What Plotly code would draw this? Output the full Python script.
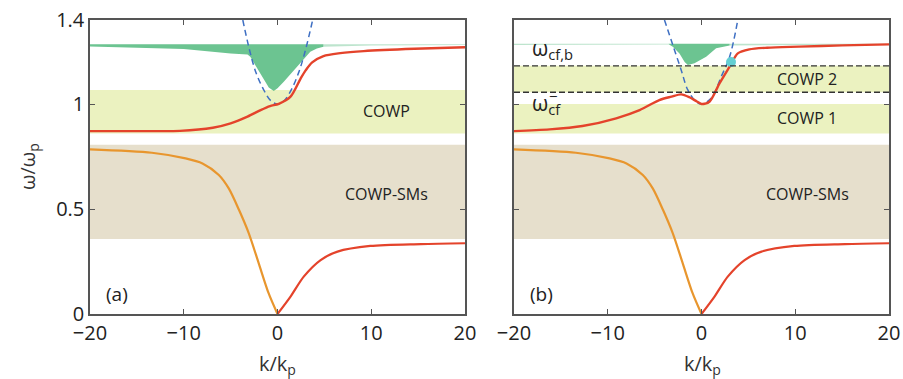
import plotly.graph_objects as go

# ---------------- data ----------------
k_orange = [-20, -13.4, -9.8, -8.0, -6.26, -5.2, -4.1, -3.06, -2.0, -0.95, 0]
w_orange = [0.784, 0.768, 0.741, 0.717, 0.662, 0.598, 0.495, 0.384, 0.241, 0.099, 0]

k_red_low = [0, 1.39, 2.8, 4.6, 6.4, 9.9, 15.3, 20]
w_red_low = [0, 0.083, 0.178, 0.257, 0.297, 0.324, 0.333, 0.337]

k_red_a = [-20, -14, -10.4, -6.9, -5.0, -3.2, -1.8, -0.8, 0.14, 1.39, 2.45, 3.0, 3.7, 4.9, 6.7, 9.2, 14.6, 20]
w_red_a = [0.871, 0.871, 0.872, 0.887, 0.908, 0.94, 0.971, 0.99, 1.001, 1.035, 1.12, 1.16, 1.198, 1.228, 1.242, 1.252, 1.263, 1.27]

k_red_b = [-20, -16.2, -12.7, -9.1, -6.6, -4.5, -3.2, -2.17, -1.28, -0.5, 0, 0.85, 1.92, 3.0, 3.87, 5.1, 7, 10.4, 15, 20]
w_red_b = [0.871, 0.879, 0.895, 0.932, 0.971, 1.019, 1.035, 1.046, 1.032, 1.012, 1.0, 1.011, 1.098, 1.178, 1.241, 1.26, 1.268, 1.273, 1.279, 1.284]

k_dash_a = [-3.7, -3.0, -2.3, -1.5, -0.7, 0, 0.7, 1.5, 2.3, 3.0, 3.75]
w_dash_a = [1.4, 1.26, 1.15, 1.07, 1.015, 1.0, 1.015, 1.07, 1.155, 1.26, 1.4]

k_dash_b = [-3.95, -3.06, -2.17, -1.46, -0.57, 0, 1.03, 2.1, 3.0, 3.87]
w_dash_b = [1.4, 1.281, 1.162, 1.067, 1.011, 1.0, 1.027, 1.13, 1.225, 1.4]

k_green_a = [-20, -10, -5, -3.2, -2.9, -2.5, -1.8, -1.3, -0.93, -0.4, 0.0, 0.67, 1.4, 2.1, 2.8, 3.5, 4.2, 4.9]
g_low_a = [1.274, 1.262, 1.241, 1.236, 1.225, 1.195, 1.146, 1.105, 1.078, 1.062, 1.075, 1.106, 1.142, 1.178, 1.215, 1.249, 1.264, 1.273]
g_top_a = 1.284
k_faint_a = [4.9, 10, 20]
f_low_a = [1.273, 1.279, 1.281]

k_green_b = [-3.5, -3.06, -2.35, -1.8, -1.46, -0.75, 0.5, 1.56, 3.0]
g_low_b = [1.284, 1.273, 1.241, 1.2, 1.186, 1.194, 1.225, 1.265, 1.279]
g_top_b = 1.287
k_faint_b_left = [-20, -3.5]
f_low_b_left = [1.281, 1.283]
k_faint_b_right = [3.0, 20]
f_low_b_right = [1.279, 1.283]

dot_b = (3.15, 1.2)

band_cowp_a = (0.86, 1.067)
band_sm = (0.357, 0.806)
band_cowp1_b = (0.86, 1.0)
band_cowp2_b = (1.056, 1.182)
lines_b = [1.056, 1.182]

x_ticks = [-20, -10, 0, 10, 20]
y_ticks = [0, 0.5, 1, 1.4]
y_ticktext = ["0", "0.5", "1", "1.4"]

# ---------------- styling ----------------
RED = "#e4432b"
ORANGE = "#e8962e"
BLUE = "#3e6fc3"
GREEN = "#6cc491"
GREEN_FAINT = "rgba(108,196,145,0.45)"
YELLOW = "#ebf2c0"
TAN = "#e6dfcc"
CYAN = "#63cfd3"
AX = "#555555"
FONT = "Open Sans"

W, H = 903, 379

fig = go.Figure()


def poly(xs, lows, top):
    px = list(xs) + list(xs)[::-1]
    tops = [top] * len(xs)
    py = list(lows) + tops[::-1]
    return px, py


def add_green(xs, lows, top, color, xa, ya):
    px, py = poly(xs, lows, top)
    fig.add_trace(go.Scatter(x=px, y=py, fill="toself", fillcolor=color,
                             line=dict(width=0, color=color), mode="lines",
                             hoverinfo="skip", showlegend=False, xaxis=xa, yaxis=ya))


# panel a
add_green(k_green_a, g_low_a, g_top_a, GREEN, "x", "y")
add_green(k_faint_a, f_low_a, g_top_a, GREEN_FAINT, "x", "y")
# panel b
add_green(k_faint_b_left, f_low_b_left, g_top_b, GREEN_FAINT, "x2", "y2")
add_green(k_green_b, g_low_b, g_top_b, GREEN, "x2", "y2")
add_green(k_faint_b_right, f_low_b_right, g_top_b, GREEN_FAINT, "x2", "y2")

for xa, ya, kd, wd, kr, wr in [("x", "y", k_dash_a, w_dash_a, k_red_a, w_red_a),
                               ("x2", "y2", k_dash_b, w_dash_b, k_red_b, w_red_b)]:
    fig.add_trace(go.Scatter(x=kd, y=wd, mode="lines", line=dict(color=BLUE, width=1.5, dash="6px,4px", shape="spline"),
                             showlegend=False, xaxis=xa, yaxis=ya))
    fig.add_trace(go.Scatter(x=k_orange, y=w_orange, mode="lines", line=dict(color=ORANGE, width=2.2, shape="spline", smoothing=0.8),
                             showlegend=False, xaxis=xa, yaxis=ya))
    fig.add_trace(go.Scatter(x=k_red_low, y=w_red_low, mode="lines", line=dict(color=RED, width=2.2, shape="spline", smoothing=0.8),
                             showlegend=False, xaxis=xa, yaxis=ya))
    fig.add_trace(go.Scatter(x=kr, y=wr, mode="lines", line=dict(color=RED, width=2.4, shape="spline", smoothing=0.8),
                             showlegend=False, xaxis=xa, yaxis=ya))

fig.add_trace(go.Scatter(x=[dot_b[0]], y=[dot_b[1]], mode="markers",
                         marker=dict(color=CYAN, size=10), showlegend=False, xaxis="x2", yaxis="y2"))

# bands
shapes = []
def band(xr, yr, lo_hi, color):
    shapes.append(dict(type="rect", xref=xr, yref=yr, x0=-20, x1=20, y0=lo_hi[0], y1=lo_hi[1],
                       fillcolor=color, line=dict(width=0), layer="below"))

band("x", "y", band_cowp_a, YELLOW)
band("x", "y", band_sm, TAN)
band("x2", "y2", band_cowp1_b, YELLOW)
band("x2", "y2", band_cowp2_b, YELLOW)
band("x2", "y2", band_sm, TAN)
for yv in lines_b:
    shapes.append(dict(type="line", xref="x2", yref="y2", x0=-20, x1=20, y0=yv, y1=yv,
                       line=dict(color="#333333", width=1.3, dash="6px,3px"), layer="above"))

axis_common = dict(range=[-20, 20], showline=True, linecolor=AX, linewidth=1.5, mirror="ticks",
                   ticks="inside", ticklen=5, tickcolor=AX, tickwidth=1.2, showgrid=False, zeroline=False,
                   automargin=False, ticklabeloverflow="allow",
                   tickvals=x_ticks, tickfont=dict(family=FONT, size=20, color="#222"))
yaxis_common = dict(range=[0, 1.4], showline=True, linecolor=AX, linewidth=1.5, mirror="ticks",
                    ticks="inside", ticklen=5, tickcolor=AX, tickwidth=1.2, showgrid=False, zeroline=False,
                    automargin=False, ticklabeloverflow="allow",
                    tickvals=y_ticks, ticktext=y_ticktext, tickfont=dict(family=FONT, size=20, color="#222"))


def px_x(p):
    return p / W


def px_y(p):
    return (H - p) / H


X1 = [px_x(90), px_x(465)]
X2 = [px_x(514), px_x(889)]
YD = [px_y(314), px_y(20)]

fig.update_layout(
    width=W, height=H, margin=dict(l=0, r=0, t=0, b=0, pad=0), autosize=False,
    paper_bgcolor="white", plot_bgcolor="white",
    xaxis=dict(domain=X1, anchor="y", **axis_common),
    xaxis2=dict(domain=X2, anchor="y2", **axis_common),
    yaxis=dict(domain=YD, anchor="x", **yaxis_common),
    yaxis2=dict(domain=YD, anchor="x2", showticklabels=False, **yaxis_common),
    shapes=shapes,
)

ann = []
def a(text, xr, yr, x, y, size=16, xanchor="center", yanchor="middle"):
    ann.append(dict(text=text, xref=xr, yref=yr, x=x, y=y, showarrow=False,
                    font=dict(family=FONT, size=size, color="#222"), xanchor=xanchor, yanchor=yanchor))

a("COWP", "x", "y", 11.6, 0.965)
a("COWP-SMs", "x", "y", 11.6, 0.57)
a("(a)", "x", "y", -17.1, 0.095, size=19)
a("COWP 2", "x2", "y2", 11.3, 1.12)
a("COWP 1", "x2", "y2", 11.3, 0.935)
a("COWP-SMs", "x2", "y2", 11.3, 0.57)
a("(b)", "x2", "y2", -17.1, 0.095, size=19)
a("ω<sub>cf,b</sub>", "x2", "y2", -18.3, 1.262, size=21, xanchor="left")
a("ω<sub>cf</sub>", "x2", "y2", -18.3, 0.998, size=21, xanchor="left")
a("−", "x2", "y2", -16.5, 1.04, size=15, xanchor="left")

# axis titles
TF = dict(family=FONT, size=20, color="#333")
for xc in (277, 702):
    ann.append(dict(text="k/k<sub>p</sub>", xref="paper", yref="paper", x=px_x(xc), y=px_y(364),
                    xanchor="center", yanchor="middle", showarrow=False, font=TF))
ann.append(dict(text="ω/ω<sub>p</sub>", xref="paper", yref="paper", x=px_x(28), y=px_y(167),
                xanchor="center", yanchor="middle", showarrow=False, textangle=-90, font=TF))
fig.update_layout(annotations=ann)

fig.write_html("out.html", config={"displayModeBar": False},
               post_script="document.body.style.margin='0';document.body.style.overflow='hidden';")
